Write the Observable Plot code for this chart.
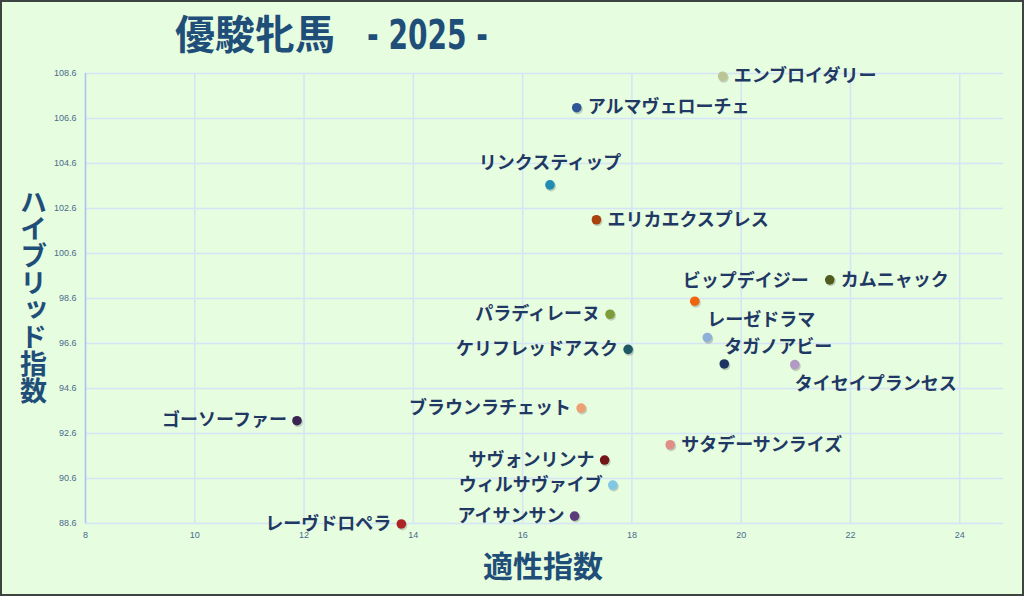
<!DOCTYPE html>
<html><head><meta charset="utf-8">
<script src="https://cdn.jsdelivr.net/npm/d3@7"></script>
<script src="https://cdn.jsdelivr.net/npm/@observablehq/plot@0.6"></script>
<style>
html,body{margin:0;padding:0;background:#e6fde0;}
#wrap{position:relative;width:1024px;height:596px;overflow:hidden;background:#e6fde0;font-family:"Noto Sans CJK JP","Noto Sans",sans-serif;}
#wrap > svg.plot{position:absolute;left:0;top:0;}
#titlesvg{position:absolute;left:0;top:0;}
#ytitle{position:absolute;left:19px;top:188px;writing-mode:vertical-rl;text-orientation:upright;font-size:27px;line-height:28px;font-weight:bold;color:#1f4e79;letter-spacing:0px;}
#xtitle{position:absolute;left:483px;top:548px;font-size:30px;line-height:32px;font-weight:bold;color:#1f4e79;}
#frame{position:absolute;left:0;top:0;width:1024px;height:596px;box-sizing:border-box;border:2px solid #3d4340;pointer-events:none;}
</style>
</head><body>
<div id="wrap"></div>
<script>
// ---- data ----
const horses = ["エンブロイダリー","アルマヴェローチェ","リンクスティップ","エリカエクスプレス","ビップデイジー","カムニャック","パラディレーヌ","レーゼドラマ","ケリフレッドアスク","タガノアビー","タイセイプランセス","ブラウンラチェット","ゴーソーファー","サヴォンリンナ","サタデーサンライズ","ウィルサヴァイブ","アイサンサン","レーヴドロペラ"];
const aptitude = [19.66, 16.99, 16.50, 17.35, 19.15, 21.62, 17.60, 19.38, 17.93, 19.69, 20.98, 17.07, 11.87, 17.50, 18.70, 17.65, 16.95, 13.78];
const hybrid   = [108.48, 107.08, 103.65, 102.10, 98.48, 99.43, 97.90, 96.87, 96.34, 95.69, 95.66, 93.73, 93.17, 91.42, 92.10, 90.31, 88.93, 88.58];
const dotColors = ["#bcc596","#2f5597","#1f8cb4","#a9420c","#f0640f","#4f5b1f","#7f9b3a","#8eafd6","#1e5862","#1c3462","#b29ac4","#eea073","#3a2451","#731417","#df8f86","#82c6e6","#5b3c7b","#ad2323"];
const labelSide = ["right","right","above","right","aboveWide","right","left","aboveStart","left","aboveStart","belowStart","left","left","left","right","left","left","left"];
const xTicks = [8,10,12,14,16,18,20,22,24];
const yTicks = [88.6,90.6,92.6,94.6,96.6,98.6,100.6,102.6,104.6,106.6,108.6];
const chartTitle = "優駿牝馬";
const chartYear = "- 2025 -";
const xTitle = "適性指数";
const yTitle = "ハイブリッド指数";

const data = horses.map((name,i)=>({name, x:aptitude[i], y:hybrid[i], color:dotColors[i], side:labelSide[i]}));

const sideStyle = {
  right:{textAnchor:"start",dx:11,dy:0},
  left:{textAnchor:"end",dx:-10,dy:0},
  above:{textAnchor:"middle",dx:0,dy:-22},
  aboveWide:{textAnchor:"start",dx:-12,dy:-20},
  aboveStart:{textAnchor:"start",dx:0,dy:-17},
  belowStart:{textAnchor:"start",dx:0,dy:20}
};
const font = '"Noto Sans CJK JP","Noto Sans",sans-serif';
const labelMarks = Object.entries(sideStyle).map(([side,s]) =>
  Plot.text(data.filter(d=>d.side===side), {x:"x", y:"y", text:"name", textAnchor:s.textAnchor, dx:s.dx, dy:s.dy,
    fontSize:18, fontWeight:"bold", fill:"#1f3864", fontFamily:font}));

const chart = Plot.plot({
  width:1024, height:596,
  marginLeft:85, marginRight:21, marginTop:73, marginBottom:73,
  style:{background:"transparent", fontFamily:font, overflow:"visible"},
  x:{domain:[8,24.8], label:null},
  y:{domain:[88.6,108.6], label:null},
  color:{type:"identity"},
  marks:[
    Plot.gridX(xTicks, {stroke:"#d5e4f6", strokeOpacity:1, strokeWidth:1.5}),
    Plot.gridY(yTicks, {stroke:"#d5e4f6", strokeOpacity:1, strokeWidth:1.5}),
    Plot.ruleX([8], {stroke:"#a8c7ef", strokeWidth:1.5}),
    Plot.axisX(xTicks, {tickSize:0, tickPadding:8, fontSize:9, fill:"#4b6a8d", label:null, fontFamily:'"Liberation Sans",sans-serif'}),
    Plot.axisY(yTicks, {tickSize:0, tickPadding:9, fontSize:9, fill:"#4b6a8d", label:null, tickFormat:d3.format(".1f"), fontFamily:'"Liberation Sans",sans-serif'}),
    Plot.dot(data, {x:"x", y:"y", r:5, fill:"#000", fillOpacity:0.18, dx:1, dy:1.5}),
    Plot.dot(data, {x:"x", y:"y", r:4.8, fill:"color"}),
    ...labelMarks
  ]
});
chart.classList.add("plot");
const wrap = document.getElementById("wrap");
wrap.appendChild(chart);

// title
const ns = "http://www.w3.org/2000/svg";
const tsvg = document.createElementNS(ns,"svg");
tsvg.setAttribute("id","titlesvg");
tsvg.setAttribute("width","1024"); tsvg.setAttribute("height","62");
const t1 = document.createElementNS(ns,"text");
t1.setAttribute("x","175"); t1.setAttribute("y","49");
t1.setAttribute("font-size","40"); t1.setAttribute("font-weight","bold");
t1.setAttribute("font-family",font); t1.setAttribute("fill","#1f4e79");
t1.setAttribute("textLength","160"); t1.setAttribute("lengthAdjust","spacingAndGlyphs");
t1.textContent = chartTitle;
const t2 = document.createElementNS(ns,"text");
t2.setAttribute("x","367"); t2.setAttribute("y","49");
t2.setAttribute("font-size","41"); t2.setAttribute("font-weight","bold");
t2.setAttribute("font-family",'"DejaVu Sans Condensed","DejaVu Sans",sans-serif'); t2.setAttribute("fill","#1f4e79");
t2.setAttribute("textLength","121"); t2.setAttribute("lengthAdjust","spacingAndGlyphs");
t2.setAttribute("xml:space","preserve");
t2.textContent = chartYear;
tsvg.appendChild(t1); tsvg.appendChild(t2);
wrap.appendChild(tsvg);

const yt = document.createElement("div"); yt.id="ytitle"; yt.textContent = yTitle; wrap.appendChild(yt);
const xt = document.createElement("div"); xt.id="xtitle"; xt.textContent = xTitle; wrap.appendChild(xt);
const fr = document.createElement("div"); fr.id="frame"; wrap.appendChild(fr);
</script>
</body></html>
